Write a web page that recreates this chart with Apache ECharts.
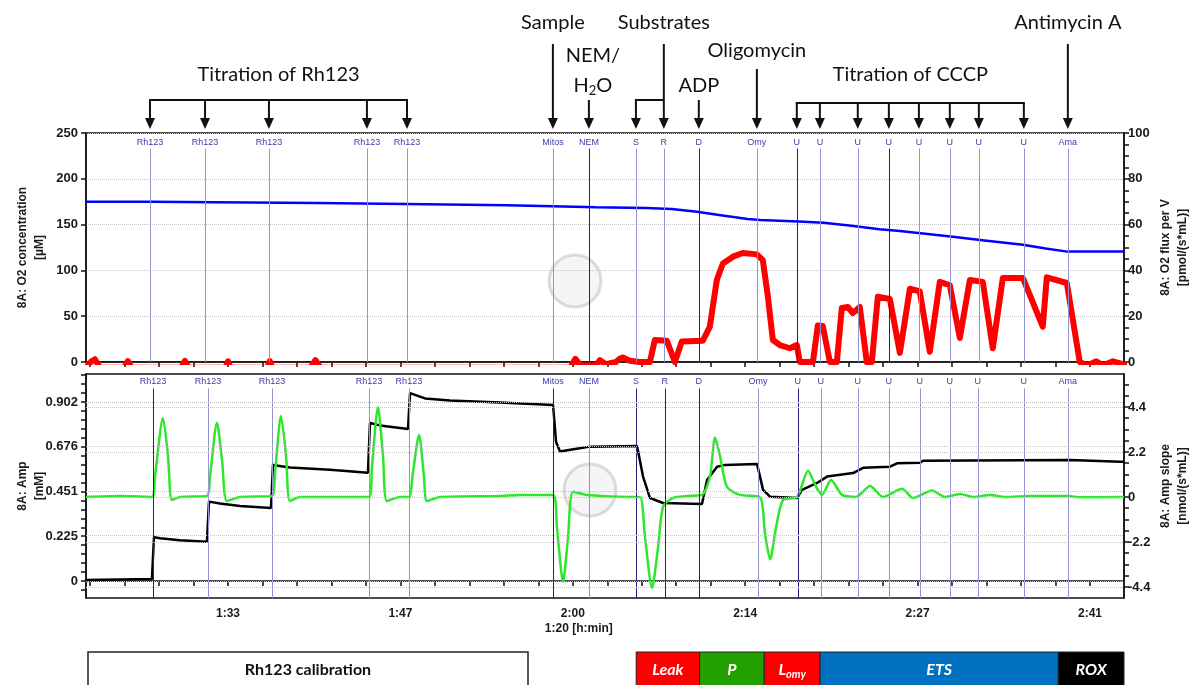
<!DOCTYPE html>
<html>
<head>
<meta charset="utf-8">
<script src="https://cdn.jsdelivr.net/npm/echarts@6.0.0/dist/echarts.min.js"></script>
<style>
html, body { margin: 0; padding: 0; background: #fff; }
#main { width: 1192px; height: 685px; }
</style>
</head>
<body>
<div id="main"></div>
<script>
// time axis in minutes
var xMin = 81.8, xMax = 163.68;
var xLabelVals = [93, 106.6, 120.2, 133.8, 147.4, 161];
var xLabelText = ['1:33', '1:47', '2:00', '2:14', '2:27', '2:41'];

var ampLabelVals = [0, 0.2255, 0.451, 0.6765, 0.902];
var ampLabelText = ['0', '0.225', '0.451', '0.676', '0.902'];
var slopeLabelVals = [-4.4, -2.2, 0, 2.2, 4.4];
var fluxLabelVals = [0, 20, 40, 60, 80, 100];

// O2 concentration (blue, uM)
var o2Time = [81.8, 87, 92, 100, 107, 115, 118.6, 122, 126, 128, 130, 132, 134, 135, 138, 140, 142, 144.4, 146, 148, 150, 152.5, 155.7, 157.5, 159.2, 163.68];
var o2Conc = [175, 175, 174.5, 173.5, 172.5, 171, 170, 169, 168, 167, 164, 160, 156, 155, 153.5, 152, 149, 145, 143, 140, 137, 133, 128, 124, 120.5, 120.5];

// O2 flux per V (red, pmol/(s*mL)); slightly negative stretches sit below the axis
var fluxTime = [81.8, 82.2, 82.5, 82.9, 84.8, 85.1, 85.4, 89.3, 89.6, 89.9, 92.8, 93.0, 93.2, 96.1, 96.3, 96.5, 99.5, 99.9, 100.3, 120.0, 120.4, 120.8, 122.0, 122.34, 122.8, 123.6, 123.92, 124.15, 124.7, 125.49, 126.28, 126.67, 127.62, 128.25, 128.8, 130.46, 131.01, 131.56, 132.04, 132.83, 133.61, 134.72, 135.19, 135.59, 135.98, 136.53, 137.32, 137.87, 138.11, 139.14, 139.53, 139.92, 140.48, 141.03, 141.42, 141.9, 142.29, 142.84, 143.39, 143.79, 144.26, 145.21, 146.0, 146.79, 147.57, 148.36, 149.15, 149.94, 150.73, 151.52, 152.54, 153.33, 154.12, 155.7, 156.49, 157.27, 157.59, 159.17, 160.19, 160.8, 161.5, 162.0, 162.8, 163.68];
var fluxVal = [-2.5, 0.2, 1.2, -2.5, -2.5, 0.4, -2.5, -2.5, 0.5, -2.5, -2.5, 0.3, -2.5, -2.5, 0.4, -2.5, -2.5, 0.8, -2.5, -2.5, 1.4, -1.5, -1.5, 0.8, -1, 0, 1.5, 2, 0.5, 0, 0, 9.6, 9.3, 0, 9, 9.3, 15.4, 35.8, 43, 46, 47.6, 47, 44.5, 28.5, 9.6, 7.4, 6, 7.4, 0, 0, 16, 15.7, 0, 0, 23.6, 24, 21.4, 24, 0, 0, 28.5, 27.5, 4, 32, 30.8, 4.5, 35, 33.5, 10.5, 35.8, 35, 6, 36.7, 36.7, 26, 15.4, 37, 34.5, 0, -1.5, 0.3, -1.5, 0.3, -1];

// Amp (black, mM)
var ampTime = [81.8, 84.48, 87.0, 87.16, 87.64, 89.21, 91.34, 91.5, 92.37, 93.95, 96.39, 96.55, 97.89, 101.05, 104.04, 104.2, 104.99, 107.2, 107.36, 108.54, 110.51, 114.46, 118.64, 118.88, 119.19, 120.37, 121.56, 125.27, 125.74, 126.29, 127.32, 130.39, 130.79, 131.58, 132.21, 134.73, 135.21, 135.76, 137.89, 138.28, 139.47, 140.26, 142.31, 143.1, 145.22, 145.78, 147.59, 147.83, 159.42, 163.37, 163.68];
var ampVal = [0.005, 0.008, 0.01, 0.22, 0.215, 0.205, 0.198, 0.4, 0.39, 0.378, 0.368, 0.585, 0.572, 0.56, 0.546, 0.796, 0.784, 0.766, 0.947, 0.92, 0.91, 0.9, 0.887, 0.7, 0.652, 0.665, 0.677, 0.68, 0.526, 0.418, 0.393, 0.388, 0.509, 0.576, 0.585, 0.59, 0.459, 0.425, 0.418, 0.459, 0.494, 0.526, 0.544, 0.57, 0.576, 0.593, 0.596, 0.606, 0.61, 0.601, 0.601];

// Amp slope (green, nmol/(s*mL))
var slopeTime = [81.8, 84.48, 87.0, 87.24, 87.87, 88.27, 88.58, 89.21, 91.34, 91.58, 92.13, 92.53, 92.92, 93.95, 96.47, 96.71, 97.18, 97.58, 97.89, 98.68, 104.12, 104.36, 104.83, 105.23, 105.54, 106.57, 107.28, 107.59, 108.07, 108.46, 108.7, 109.72, 114.46, 116.04, 118.64, 118.95, 119.43, 119.82, 120.22, 121.32, 124.71, 125.5, 125.9, 126.45, 126.92, 127.32, 128.11, 129.21, 130.39, 131.02, 131.42, 131.81, 132.36, 133.39, 134.96, 135.36, 135.76, 136.23, 136.78, 137.89, 138.76, 139.31, 139.86, 140.57, 141.44, 142.54, 143.65, 144.67, 146.17, 147.04, 148.54, 149.56, 150.75, 151.77, 153.11, 154.3, 156.27, 159.27, 160.21, 163.68];
var slopeVal = [0, 0.05, 0, 1.0, 3.86, 2.0, -0.15, 0, 0.05, 1.0, 3.63, 1.8, -0.2, 0, 0.05, 1.2, 3.96, 2.0, -0.2, 0, 0, 1.5, 4.4, 2.0, -0.2, 0, 0, 1.2, 3.03, 1.0, -0.2, 0, 0.05, 0.1, 0.1, -1.5, -4.14, -2.0, 0.26, 0.1, 0, 0, -2.0, -4.45, -2.5, -0.47, -0.05, 0.05, 0.1, 1.0, 2.9, 2.0, 0.5, 0.1, 0, -1.8, -3.05, -1.5, -0.15, 0, 1.28, 0.6, 0.1, 0.83, 0.1, 0, 0.54, 0, 0.4, -0.05, 0.31, 0, 0.15, 0, 0.1, 0, 0.05, 0.05, -0.02, 0];

// event marks (O2 channel / Amp channel)
var markName = ['Rh123', 'Rh123', 'Rh123', 'Rh123', 'Rh123', 'Mitos', 'NEM', 'S', 'R', 'D', 'Omy', 'U', 'U', 'U', 'U', 'U', 'U', 'U', 'U', 'Ama'];
var markTimeO2 = [86.85, 91.19, 96.23, 103.96, 107.12, 118.63, 121.47, 125.18, 127.38, 130.14, 134.72, 137.87, 139.69, 142.68, 145.13, 147.5, 149.94, 152.23, 155.78, 159.25];
var markDarkO2 = [0, 0, 0, 0, 0, 0, 1, 0, 0, 1, 0, 1, 0, 0, 1, 0, 0, 0, 0, 0];
var markTimeAmp = [87.09, 91.42, 96.47, 104.12, 107.27, 118.63, 121.47, 125.18, 127.46, 130.14, 134.8, 137.95, 139.76, 142.68, 145.13, 147.57, 149.94, 152.15, 155.78, 159.25];
var markDarkAmp = [1, 0, 0, 0, 0, 1, 0, 1, 1, 1, 0, 1, 0, 0, 0, 0, 0, 0, 0, 0];

// protocol phases under the chart
var phaseName = ['Leak', 'P', 'Lomy', 'ETS', 'ROX'];
var phaseStart = [125.2, 130.2, 135.3, 139.7, 158.5];
var phaseEnd = [130.2, 135.3, 139.7, 158.5, 163.68];
var phaseColor = ['#ff0000', '#22a000', '#ff0000', '#0070c0', '#000000'];

function zip(a, b) { return a.map(function (v, i) { return [v, b[i]]; }); }
function steps(from, to, step) {
  var out = [];
  for (var v = from; v <= to + 1e-9; v += step) out.push(+v.toFixed(4));
  return out;
}

var xTicks = steps(93 - 4 * 2.72, xMax, 2.72);
var ampMin = -0.0857, ampMax = 1.043;
var slopeMin = -4.94, slopeMax = 6.01;

var dark = '#22227e', light = '#9393d4';
var axisTxt = { color: '#1a1a1a', fontWeight: 'bold', fontSize: 13, fontFamily: 'Liberation Sans, Arial' };
var nameTxt = { color: '#1a1a1a', fontWeight: 'bold', fontSize: 12, lineHeight: 17, fontFamily: 'Liberation Sans, Arial' };
var axisLn = { show: true, lineStyle: { color: '#111', width: 1.5 } };
var gridDot = { type: 'dotted', color: '#c4c4c4', width: 1 };

function eventLines(times, dark01, yBottom, yTop) {
  return times.map(function (t, i) {
    return [
      { name: markName[i], coord: [t, yBottom], lineStyle: { color: dark01[i] ? dark : light, width: 1, type: 'solid' } },
      { coord: [t, yTop] }
    ];
  });
}

var chart = echarts.init(document.getElementById('main'));

var option = {
  animation: false,
  backgroundColor: '#fff',
  grid: [
    { left: 86, right: 68, top: 133, height: 229, show: true, borderColor: '#111', borderWidth: 1.5, outerBoundsMode: 'none', containLabel: false },
    { left: 86, right: 68, top: 374, height: 224, show: true, borderColor: '#111', borderWidth: 1.5, outerBoundsMode: 'none', containLabel: false }
  ],
  xAxis: [
    { type: 'value', gridIndex: 0, min: xMin, max: xMax, axisLine: axisLn,
      axisTick: { customValues: xTicks, length: 5, lineStyle: { color: '#111', width: 1.5 } },
      axisLabel: { show: false }, splitLine: { show: false } },
    { type: 'value', gridIndex: 1, min: xMin, max: xMax, axisLine: axisLn,
      axisTick: { customValues: xTicks, length: 5, lineStyle: { color: '#111', width: 1.5 } },
      axisLabel: { customValues: xLabelVals, margin: 10, fontSize: 12, color: '#1a1a1a', fontWeight: 'bold', fontFamily: 'Liberation Sans, Arial',
        formatter: function (v) { var i = xLabelVals.indexOf(v); return i >= 0 ? xLabelText[i] : ''; } },
      splitLine: { show: false } }
  ],
  yAxis: [
    { type: 'value', gridIndex: 0, position: 'left', min: 0, max: 250, interval: 50,
      name: '8A: O2 concentration\n[µM]', nameLocation: 'middle', nameRotate: 90, nameGap: 38, nameMoveOverlap: false, nameTextStyle: nameTxt,
      axisLine: axisLn, axisTick: { length: 5, lineStyle: { width: 1.5, color: '#111' } }, axisLabel: axisTxt,
      splitLine: { show: true, lineStyle: gridDot } },
    { type: 'value', gridIndex: 0, position: 'right', min: 0, max: 100,
      name: '8A: O2 flux per V\n[pmol/(s*mL)]', nameLocation: 'middle', nameRotate: 90, nameGap: 33, nameMoveOverlap: false, nameTextStyle: nameTxt,
      axisLine: axisLn, axisTick: { customValues: steps(0, 100, 5), length: 5, lineStyle: { width: 1.5, color: '#111' } },
      axisLabel: Object.assign({ customValues: fluxLabelVals, margin: 4 }, axisTxt), splitLine: { show: false } },
    { type: 'value', gridIndex: 1, position: 'left', min: ampMin, max: ampMax,
      name: '8A: Amp\n[mM]', nameLocation: 'middle', nameRotate: 90, nameGap: 38, nameMoveOverlap: false, nameTextStyle: nameTxt,
      axisLine: axisLn, axisTick: { customValues: steps(-0.0451, ampMax, 0.0451), length: 5, lineStyle: { width: 1.5, color: '#111' } },
      axisLabel: Object.assign({ customValues: ampLabelVals,
        formatter: function (v) { var i = ampLabelVals.indexOf(v); return i >= 0 ? ampLabelText[i] : ''; } }, axisTxt),
      splitLine: { show: false } },
    { type: 'value', gridIndex: 1, position: 'right', min: slopeMin, max: slopeMax,
      name: '8A: Amp slope\n[nmol/(s*mL)]', nameLocation: 'middle', nameRotate: 90, nameGap: 33, nameMoveOverlap: false, nameTextStyle: nameTxt,
      axisLine: axisLn, axisTick: { customValues: steps(-4.4, slopeMax, 0.55), length: 5, lineStyle: { width: 1.5, color: '#111' } },
      axisLabel: Object.assign({ customValues: slopeLabelVals, margin: 4 }, axisTxt), splitLine: { show: false } }
  ],
  series: [
    { name: 'marks O2', type: 'line', xAxisIndex: 0, yAxisIndex: 0, data: [], z: 1,
      markLine: { silent: true, symbol: ['none', 'none'], animation: false,
        label: { show: true, position: 'end', distance: 2, formatter: function (p) { return p.name; }, color: '#3b3ba8', fontSize: 9, fontFamily: 'Liberation Sans, Arial' },
        data: eventLines(markTimeO2, markDarkO2, 0, 233) } },
    { name: 'marks Amp', type: 'line', xAxisIndex: 1, yAxisIndex: 2, data: [], z: 1,
      markLine: { silent: true, symbol: ['none', 'none'], animation: false,
        label: { show: true, position: 'end', distance: 2, formatter: function (p) { return p.name; }, color: '#3b3ba8', fontSize: 9, fontFamily: 'Liberation Sans, Arial' },
        data: eventLines(markTimeAmp, markDarkAmp, ampMin, 0.97).concat(ampLabelVals.map(function (v) {
          return { yAxis: v, label: { show: false }, lineStyle: gridDot };
        })) } },
    { name: 'grid slope', type: 'line', xAxisIndex: 1, yAxisIndex: 3, data: [], z: 1,
      markLine: { silent: true, symbol: ['none', 'none'], animation: false, label: { show: false },
        data: slopeLabelVals.map(function (v) { return { yAxis: v, lineStyle: gridDot }; }) } },
    { name: 'O2 concentration', type: 'line', xAxisIndex: 0, yAxisIndex: 0, data: zip(o2Time, o2Conc),
      showSymbol: false, z: 3, lineStyle: { color: '#0000ff', width: 2.5 } },
    { name: 'O2 flux per V', type: 'line', xAxisIndex: 0, yAxisIndex: 1, data: zip(fluxTime, fluxVal),
      showSymbol: false, z: 4, lineStyle: { color: '#ff0000', width: 6, join: 'round', cap: 'round' } },
    { name: 'Amp', type: 'line', xAxisIndex: 1, yAxisIndex: 2, data: zip(ampTime, ampVal),
      showSymbol: false, z: 3, lineStyle: { color: '#000000', width: 2.5 } },
    { name: 'Amp slope', type: 'line', xAxisIndex: 1, yAxisIndex: 3, data: zip(slopeTime, slopeVal),
      showSymbol: false, smooth: 0.25, z: 4, lineStyle: { color: '#2ee62e', width: 2.5 } }
  ]
};
chart.setOption(option);

// annotations above the plot, placed on the event times
function px(t) { return chart.convertToPixel({ xAxisIndex: 0 }, t); }
var annoFont = 'Lato, "Open Sans", sans-serif';
var g = [];
function text(str, x, y, size) {
  g.push({ type: 'text', x: x, y: y, style: { text: str, fill: '#111', font: (size || 20) + 'px ' + annoFont, textAlign: 'center', textVerticalAlign: 'middle' } });
}
function seg(x1, y1, x2, y2) {
  g.push({ type: 'line', shape: { x1: x1, y1: y1, x2: x2, y2: y2 }, style: { stroke: '#111', lineWidth: 2 } });
}
function arrow(x, y1) {
  var tip = 129;
  seg(x, y1, x, tip - 9);
  g.push({ type: 'polygon', shape: { points: [[x - 5, tip - 11], [x + 5, tip - 11], [x, tip]] }, style: { fill: '#111' } });
}

var rh = markTimeO2.slice(0, 5).map(px);
seg(rh[0] - 1, 100, rh[4] + 1, 100);
rh.forEach(function (x) { arrow(x, 100); });
text('Titration of Rh123', (rh[0] + rh[4]) / 2, 75);

var xs = px(markTimeO2[5]);
text('Sample', xs, 23); arrow(xs, 44);

var xn = px(markTimeO2[6]);
text('NEM/', xn + 4, 56);
g.push({ type: 'text', x: xn + 4, y: 86, style: { text: 'H{s|2}O', rich: { s: { font: '13px ' + annoFont, padding: [10, 0, 0, 0] } }, fill: '#111', font: '20px ' + annoFont, textAlign: 'center', textVerticalAlign: 'middle' } });
arrow(xn, 100);

var xS = px(markTimeO2[7]), xR = px(markTimeO2[8]);
text('Substrates', xR, 23);
seg(xR, 44, xR, 100); seg(xS - 1, 100, xR, 100);
arrow(xS, 100); arrow(xR, 100);

var xd = px(markTimeO2[9]);
text('ADP', xd, 86); arrow(xd, 100);

var xo = px(markTimeO2[10]);
text('Oligomycin', xo, 51); arrow(xo, 69);

var uu = markTimeO2.slice(11, 19).map(px);
seg(uu[0] - 1, 103, uu[7] + 1, 103);
uu.forEach(function (x) { arrow(x, 103); });
text('Titration of CCCP', (uu[0] + uu[7]) / 2, 75);

var xa = px(markTimeO2[19]);
text('Antimycin A', xa, 23); arrow(xa, 44);

// axis title of time
g.push({ type: 'text', x: px(120.2) + 6, y: 629, style: { text: '1:20 [h:min]', fill: '#1a1a1a', font: 'bold 12px "Liberation Sans", Arial', textAlign: 'center', textVerticalAlign: 'middle' } });

// watermark logos
[[575, 281], [590, 490]].forEach(function (c) {
  g.push({ type: 'circle', shape: { cx: c[0], cy: c[1], r: 26 }, style: { fill: 'rgba(210,210,210,0.22)', stroke: 'rgba(180,180,180,0.45)', lineWidth: 3 }, z: 0 });
});

// phase boxes
var boxTop = 652, boxH = 40;
g.push({ type: 'rect', shape: { x: 88, y: boxTop, width: 440, height: boxH }, style: { fill: '#fff', stroke: '#222', lineWidth: 1.5 } });
g.push({ type: 'text', x: 308, y: 670, style: { text: 'Rh123 calibration', fill: '#111', font: 'bold 16px ' + annoFont, textAlign: 'center', textVerticalAlign: 'middle' } });
phaseName.forEach(function (n, i) {
  var x0 = px(phaseStart[i]), x1 = px(phaseEnd[i]);
  g.push({ type: 'rect', shape: { x: x0, y: boxTop, width: x1 - x0, height: boxH }, style: { fill: phaseColor[i], stroke: '#222', lineWidth: 1 } });
  var label = n === 'Lomy' ? '{b|L}{s|omy}' : n;
  g.push({ type: 'text', x: (x0 + x1) / 2, y: 670, style: { text: label, fill: '#fff', font: 'italic bold 16px ' + annoFont, textAlign: 'center', textVerticalAlign: 'middle',
    rich: { b: { fill: '#fff', font: 'italic bold 16px ' + annoFont }, s: { fill: '#fff', font: 'italic bold 11px ' + annoFont, padding: [8, 0, 0, 0] } } } });
});

chart.setOption({ graphic: { elements: g } });
</script>
</body>
</html>
